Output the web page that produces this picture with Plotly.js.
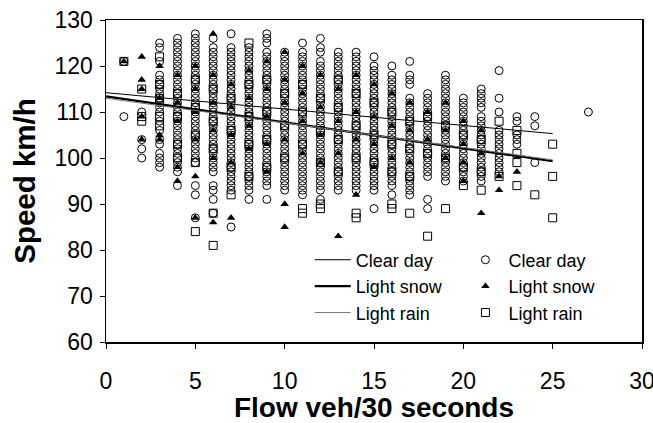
<!DOCTYPE html>
<html>
<head>
<meta charset="utf-8">
<script src="https://cdn.plot.ly/plotly-3.0.1.min.js"></script>
<style>html,body{margin:0;padding:0;background:#fff;}#chart{width:653px;height:423px;}</style>
</head>
<body>
<div id="chart"></div>
<script>
const clearFlow = [1,2,3,4,5,6,7,8,9,10,11,12,13,14,15,16,17,18,19,20,21,22,23,24,27];
const clearSpeed = [
  [121,109],
  [110,104,102,100],
  [125,124,121,118,117,116,115,114,113,112,111,110,108,106,104,103,101,100,99,98],
  [126,125,124,123,122,121,120,119,118,117,116,115,114,113,112,111,110,109,108,107,106,105,104,103,102,101,100,99,98,97,94],
  [127,126,125,124,123,122,121,120,119,118,117,116,115,114,113,112,111,110,109,108,107,106,105,104,103,102,101,100,99,94,92,87],
  [126,124,123,122,121,120,119,118,117,116,115,114,113,112,111,110,109,108,107,106,105,104,103,102,101,100,99,98,97,94,93,91,88],
  [127,124,123,122,121,120,119,118,117,116,115,114,113,112,111,110,109,108,107,106,105,104,103,102,101,100,99,98,97,96,95,94,93,85],
  [124,123,122,121,120,119,118,117,116,115,114,113,112,111,110,109,108,107,106,105,104,103,102,101,100,99,98,97,96,95,94,93,91],
  [127,126,125,123,122,121,120,119,118,117,116,115,114,113,112,111,110,109,108,107,106,105,104,103,102,101,100,99,98,97,96,95,94,91],
  [123,122,121,120,119,118,117,116,115,114,113,112,111,110,109,108,107,106,105,104,103,102,101,100,99,98,97,96,95,94,93],
  [125,123,122,121,120,119,118,117,116,115,114,113,112,111,110,109,108,107,106,105,104,103,102,101,100,99,98,97,96,95,94,93,92],
  [126,124,123,121,120,119,118,117,116,115,114,113,112,111,110,109,108,107,106,105,104,103,102,101,100,99,98,97,96,95,94,93,91],
  [123,122,121,120,119,118,117,116,115,114,113,112,111,110,109,108,107,106,105,104,103,102,101,100,99,98,97,96,95,94,93],
  [123,122,121,120,119,118,117,116,115,114,113,112,111,110,109,108,107,106,105,104,103,102,101,100,99,98,97,96,95,94,93],
  [122,120,119,118,117,116,115,114,113,112,111,110,109,108,107,106,105,104,103,102,101,100,99,98,97,96,95,94,93,89],
  [120,118,117,116,115,114,113,112,111,110,109,108,107,106,105,104,103,102,101,100,99,98,97,96,95,94,92],
  [121,118,117,116,113,112,111,110,109,108,107,106,105,104,103,102,101,100,99,98,97,96,95,94,93,92],
  [114,113,112,111,110,109,108,107,106,105,104,103,102,101,100,99,98,97,96,91,89],
  [118,117,116,115,114,113,112,111,110,109,108,107,106,105,104,103,102,101,100,99,98,97,96,95],
  [113,112,111,110,109,108,107,106,105,104,103,102,101,100,99,98,97,96,95],
  [115,114,113,112,111,109,108,107,106,105,104,103,102,101,100,99,98,97,96,95],
  [119,113,110,106,105,104,103,102,101,100,99,98,97],
  [109,108,105,104,103],
  [109,107,99],
  [110]
];

const snowFlow = [1,2,3,4,5,6,7,8,9,10,11,12,13,14,15,16,17,18,19,20,21,22,23];
const snowSpeed = [
  [121],
  [122,117,115,109,104],
  [120,113,105,104],
  [118,112,108,98,95],
  [120,115,110,104,96,87],
  [127,118,112,106,100,86],
  [116,111,105,99,87],
  [119,113,107,102],
  [121,115,109,103,97],
  [123,117,112,104,90,85],
  [120,114,108,101],
  [118,111,105,99],
  [115,108,101,83],
  [118,110,104,92],
  [116,109,103,98],
  [114,107,100],
  [112,106,99],
  [110,104],
  [112,106,100],
  [108,103,99,95],
  [106,101,88],
  [96,93],
  [97]
];

const rainFlow = [1,2,3,4,5,6,7,8,9,10,11,12,13,14,15,16,17,18,19,20,21,22,23,24,25];
const rainSpeed = [
  [121],
  [115,109,108],
  [122,116,113,109,107],
  [114,109,103,100],
  [117,111,105,99,84],
  [115,108,102,88,81],
  [113,106,98,92],
  [125,116,109,103,96],
  [117,110,104,98],
  [114,107,100],
  [116,110,103,89,88],
  [113,106,99,90,89],
  [117,111,104,97],
  [114,107,100,88,87],
  [112,105,99],
  [110,103,97,90,89],
  [108,102,96,88],
  [109,101,83],
  [107,100,89],
  [105,98,94],
  [104,97,93],
  [108,96],
  [106,101,99,94],
  [92],
  [103,96,87]
];

// Fitted trend lines (end points)
const fitFlow = [0, 25];
const clearFit = [114.2, 105.3];
const snowFit = [113.4, 99.3];
const rainFit = [113.0, 99.6];

const seriesNames = ['Clear day', 'Light snow', 'Light rain'];
const xTicks = [0, 5, 10, 15, 20, 25, 30];
const yTicks = [60, 70, 80, 90, 100, 110, 120, 130];

function flatten(flows, lists) {
  const x = [], y = [];
  flows.forEach((f, i) => lists[i].forEach(v => { x.push(f); y.push(v); }));
  return {x, y};
}

const c = flatten(clearFlow, clearSpeed);
const s = flatten(snowFlow, snowSpeed);
const r = flatten(rainFlow, rainSpeed);

const FONT = 'Liberation Sans, Arial, Helvetica, sans-serif';

const traces = [
  {x: c.x, y: c.y, type: 'scatter', mode: 'markers', name: seriesNames[0], legend: 'legend2', legendrank: 1,
   marker: {symbol: 'circle-open', size: 8, color: '#000', line: {width: 1, color: '#000'}}},
  {x: r.x, y: r.y, type: 'scatter', mode: 'markers', name: seriesNames[2], legend: 'legend2', legendrank: 3,
   marker: {symbol: 'square-open', size: 8, color: '#000', line: {width: 1, color: '#000'}}},
  {x: s.x, y: s.y, type: 'scatter', mode: 'markers', name: seriesNames[1], legend: 'legend2', legendrank: 2,
   marker: {symbol: 'triangle-up', size: 7.5, color: '#000', line: {width: 0}}},
  {x: fitFlow, y: clearFit, type: 'scatter', mode: 'lines', name: seriesNames[0], legend: 'legend', legendrank: 1,
   line: {color: '#000', width: 1}},
  {x: fitFlow, y: snowFit, type: 'scatter', mode: 'lines', name: seriesNames[1], legend: 'legend', legendrank: 2,
   line: {color: '#000', width: 2.2}},
  {x: fitFlow, y: rainFit, type: 'scatter', mode: 'lines', name: seriesNames[2], legend: 'legend', legendrank: 3,
   line: {color: '#777', width: 1}}
];

const legendCommon = {
  xanchor: 'left', yanchor: 'top', bgcolor: 'rgba(0,0,0,0)', borderwidth: 0, itemwidth: 36,
  font: {family: FONT, size: 18, color: '#000'}, tracegroupgap: 0, traceorder: 'normal'
};

const axisCommon = {
  showgrid: false, zeroline: false, showline: true, mirror: true, linecolor: '#000', linewidth: 1.5,
  ticks: 'outside', ticklen: 5, tickwidth: 1, tickcolor: '#000', ticklabeloverflow: 'allow',
  tickfont: {family: FONT, size: 23, color: '#000'}
};

const layout = {
  width: 653, height: 423,
  margin: {l: 106, r: 11, t: 20, b: 81},
  paper_bgcolor: '#fff', plot_bgcolor: '#fff',
  showlegend: true,
  xaxis: Object.assign({}, axisCommon, {
    range: [0, 30], tickvals: xTicks, ticktext: xTicks.map(String), ticklabelstandoff: 13,
    title: {text: 'Flow veh/30 seconds', font: {family: FONT, size: 28, color: '#000', weight: 'bold'}, standoff: 1}
  }),
  yaxis: Object.assign({}, axisCommon, {
    range: [60, 130], tickvals: yTicks, ticktext: yTicks.map(String), ticklabelstandoff: 2,
    title: {text: 'Speed km/h', font: {family: FONT, size: 29.5, color: '#000', weight: 'bold'}, standoff: 10}
  }),
  legend: Object.assign({}, legendCommon, {x: 0.38, y: 0.312}),
  legend2: Object.assign({}, legendCommon, {x: 0.665, y: 0.312})
};

Plotly.newPlot('chart', traces, layout, {displayModeBar: false, staticPlot: true});
</script>
</body>
</html>
